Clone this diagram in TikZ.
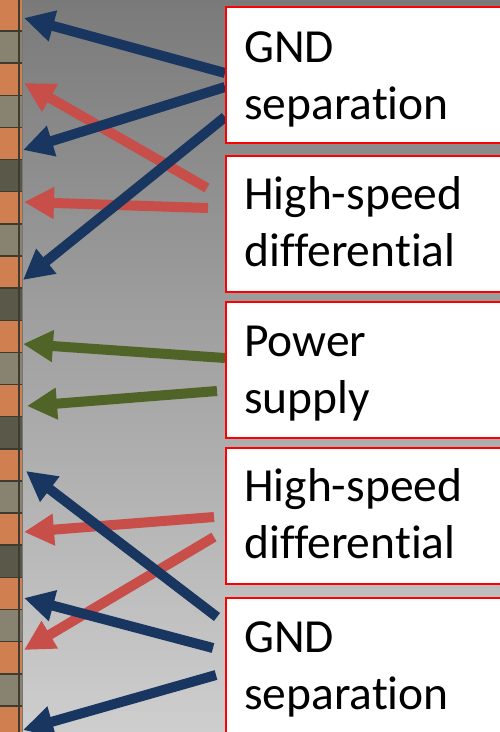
\documentclass[tikz,border=0pt]{standalone}
\usepackage{fontspec}
\setmainfont[Ligatures={NoCommon}]{Carlito}
\usetikzlibrary{arrows.meta}
\definecolor{bgtop}{RGB}{122,122,122}
\definecolor{bgbot}{RGB}{206,206,206}
\definecolor{pinO}{RGB}{208,128,80}
\definecolor{pinG}{RGB}{135,131,112}
\definecolor{pinD}{RGB}{90,88,72}
\definecolor{pinline}{RGB}{62,60,48}
\definecolor{arrblue}{RGB}{24,54,96}
\definecolor{arrred}{RGB}{200,78,74}
\definecolor{arrgreen}{RGB}{80,100,40}
\definecolor{boxred}{RGB}{255,0,0}
\begin{document}
\begin{tikzpicture}[x=1pt,y=-1pt,
  lblbox/.style={draw=boxred, line width=2pt, fill=white, rectangle,
    minimum width=290pt, minimum height=136pt, anchor=north west, inner sep=0pt},
  lbltext/.style={anchor=base west, inner sep=0pt, align=left,
    font=\fontsize{47.5}{57}\selectfont},
  sig/.style={line width=10pt, line cap=butt, -{Triangle[length=30pt,width=30pt]}},
  sigblue/.style={sig, draw=arrblue, fill=arrblue},
  sigred/.style={sig, draw=arrred, fill=arrred},
  siggreen/.style={sig, draw=arrgreen, fill=arrgreen},
  pinsep/.style={draw=pinline, line width=1.5pt}
]
\useasboundingbox (0,0) rectangle (500,732);
% background
\shade[top color=bgtop, bottom color=bgbot] (0,0) rectangle (500,732);
% pin strip
\foreach \c [count=\i from 0] in {pinO,pinG,pinO,pinG,pinO,pinD,pinO,pinG,pinO,pinD,pinO,pinG,pinO,pinD,pinO,pinG,pinO,pinD,pinO,pinG,pinO,pinG,pinO}{
  \fill[\c] (0,{-1.14+32.14*\i}) rectangle (22.5,{-1.14+32.14*(\i+1)});
  \draw[pinsep] (0,{-1.14+32.14*\i}) -- (22.5,{-1.14+32.14*\i});
}
\draw[pinline, line width=1.6pt] (19,0) -- (19,732);
\draw[pinline!70, line width=0.8pt] (22.6,0) -- (22.6,732);
% connector end points
\coordinate (a1s) at (225,73);  \coordinate (a1e) at (24,18);
\coordinate (a2s) at (225,87);  \coordinate (a2e) at (23,150);
\coordinate (a3s) at (225,117); \coordinate (a3e) at (23,280);
\coordinate (r4s) at (207,188); \coordinate (r4e) at (24,83);
\coordinate (r5s) at (208,208); \coordinate (r5e) at (24,202);
\coordinate (g6s) at (225,358); \coordinate (g6e) at (23,344);
\coordinate (g7s) at (217,391); \coordinate (g7e) at (27,406);
\coordinate (r9s) at (214,517); \coordinate (r9e) at (24,532);
\coordinate (r10s) at (214,537); \coordinate (r10e) at (24,650);
\coordinate (b8s) at (217,617); \coordinate (b8e) at (26,471);
\coordinate (b11s) at (213,648); \coordinate (b11e) at (24,598);
\coordinate (b12s) at (216,675); \coordinate (b12e) at (23,730);
% red arrows
\draw[sigred] (r4s) -- (r4e);
\draw[sigred] (r5s) -- (r5e);
\draw[sigred] (r9s) -- (r9e);
\draw[sigred] (r10s) -- (r10e);
% blue arrows
\draw[sigblue] (a1s) -- (a1e);
\draw[sigblue] (a2s) -- (a2e);
\draw[sigblue] (a3s) -- (a3e);
\draw[sigblue] (b8s) -- (b8e);
\draw[sigblue] (b11s) -- (b11e);
\draw[sigblue] (b12s) -- (b12e);
% green arrows
\draw[siggreen] (g6s) -- (g6e);
\draw[siggreen] (g7s) -- (g7e);
% boxes
\node[lblbox] (b1) at (225,6) {};
\node[lblbox] (b2) at (225,155) {};
\node[lblbox] (b3) at (225,301) {};
\node[lblbox] (b4) at (225,447) {};
\node[lblbox] (b5) at (225,597) {};
\node[lbltext] (t1) at ([shift={(19,113)}]b1.north west) {GND\\separation};
\node[lbltext] (t2) at ([shift={(19,111)}]b2.north west) {High-speed\\differential};
\node[lbltext] (t3) at ([shift={(19,112)}]b3.north west) {Power\\supply};
\node[lbltext] (t4) at ([shift={(19,111)}]b4.north west) {High-speed\\differential};
\node[lbltext] (t5) at ([shift={(19,112)}]b5.north west) {GND\\separation};
\end{tikzpicture}
\end{document}
